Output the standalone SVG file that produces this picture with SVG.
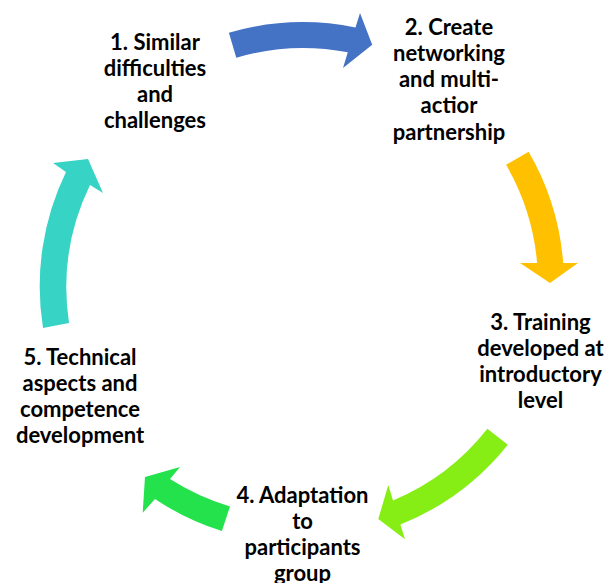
<svg xmlns="http://www.w3.org/2000/svg" width="606" height="583" viewBox="0 0 606 583">
<style>
.lbl{font-family:Lato,"Liberation Sans",sans-serif;font-weight:bold;font-size:22px;fill:#000;text-anchor:middle}
</style>
<rect width="606" height="583" fill="#fff"/>
<g id="connectors">
<path id="arrow-1-2" fill="#4472C4" d="M228.9,32.8 A261,261 0 0 1 355.5,27.5 L360,13 L372.2,44.8 L343,68 L347.8,52.3 A235,235 0 0 0 236.3,57.7 Z"/>
<path id="arrow-2-3" fill="#FFC000" d="M528.6,151.7 A261,261 0 0 1 563.2,263 L578,263 L550,283 L520,263 L537.1,263 A235,235 0 0 0 506.1,164.8 Z"/>
<path id="arrow-3-4" fill="#86EE14" d="M507.8,444.8 A261,261 0 0 1 400.4,524.5 L405,539.3 L378.3,519 L388.3,485 L393,500.4 A235,235 0 0 0 487.4,428.7 Z"/>
<path id="arrow-4-5" fill="#23E24C" d="M221.9,531.1 A261,261 0 0 1 155,499 L142.7,512.7 L145,477 L180,467 L170,479 A235,235 0 0 0 230,506.4 Z"/>
<path id="arrow-5-1" fill="#37D3C5" d="M43,328 A262,262 0 0 1 66,172 L53,163 L88,159 L103,193 L90,185 A236,236 0 0 0 69,323 Z"/>
</g>
<g id="node1">
<text class="lbl" x="155" y="49.5">1. Similar</text>
<text class="lbl" x="155" y="75.8">difficulties</text>
<text class="lbl" x="155" y="102.1">and</text>
<text class="lbl" x="155" y="128.4">challenges</text>
</g>
<g id="node2">
<text class="lbl" x="449" y="34.5">2. Create</text>
<text class="lbl" x="449" y="60.8">networking</text>
<text class="lbl" x="449" y="87.1">and multi-</text>
<text class="lbl" x="449" y="113.4">actior</text>
<text class="lbl" x="449" y="139.7">partnership</text>
</g>
<g id="node3">
<text class="lbl" x="540.5" y="329.5">3. Training</text>
<text class="lbl" x="540.5" y="355.8">developed at</text>
<text class="lbl" x="540.5" y="382.1">introductory</text>
<text class="lbl" x="540.5" y="408.4">level</text>
</g>
<g id="node4">
<text class="lbl" x="302.5" y="502.5">4. Adaptation</text>
<text class="lbl" x="302.5" y="528.8">to</text>
<text class="lbl" x="302.5" y="555.1">participants</text>
<text class="lbl" x="302.5" y="581.4">group</text>
</g>
<g id="node5">
<text class="lbl" x="80" y="364.5">5. Technical</text>
<text class="lbl" x="80" y="390.8">aspects and</text>
<text class="lbl" x="80" y="417.1">competence</text>
<text class="lbl" x="80" y="443.4">development</text>
</g>
</svg>
